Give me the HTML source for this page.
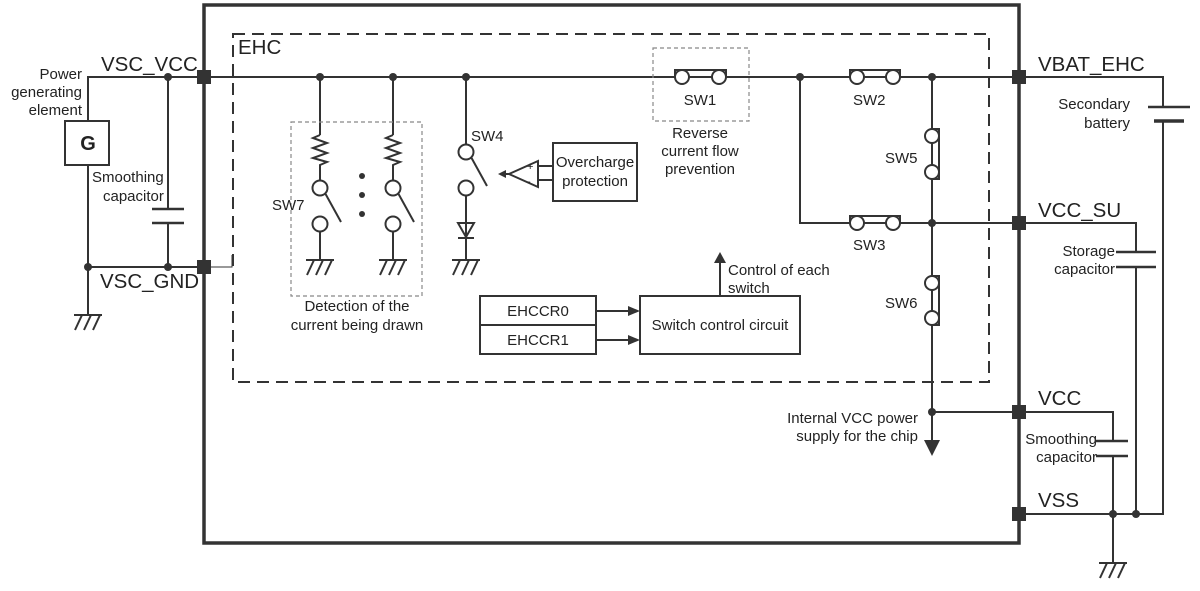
<!DOCTYPE html>
<html><head><meta charset="utf-8"><style>body{margin:0;background:#fff}svg{display:block}text{font-family:"Liberation Sans",Arial,sans-serif;fill:#222}</style></head><body>
<svg width="1200" height="591" viewBox="0 0 1200 591" xmlns="http://www.w3.org/2000/svg">
<defs>
<g id="gnd" stroke="#333" stroke-width="2" fill="none"><line x1="-14" y1="0" x2="14" y2="0"/><line x1="-6" y1="0" x2="-13" y2="15"/><line x1="3" y1="0" x2="-4" y2="15"/><line x1="12" y1="0" x2="5" y2="15"/></g>
</defs>
<g stroke="#333" fill="none" stroke-width="2">
<rect x="204" y="5" width="815" height="538" stroke-width="3.5"/>
<rect x="233" y="34" width="756" height="348" stroke-dasharray="12,7"/>
<polyline points="88,121 88,77 1019,77"/>
<line x1="88" y1="165" x2="88" y2="315"/>
<line x1="88" y1="267" x2="204" y2="267"/>
<polyline points="204,267 232,267 232,255" stroke-width="1"/>
<rect x="65" y="121" width="44" height="44"/>
<line x1="168" y1="77" x2="168" y2="209"/><line x1="152" y1="209" x2="184" y2="209" stroke-width="2.5"/>
<line x1="152" y1="223" x2="184" y2="223" stroke-width="2.5"/><line x1="168" y1="223" x2="168" y2="267"/>
<line x1="320" y1="77" x2="320" y2="135"/><polyline points="320,135 313,138 327,143 313,148 327,153 313,158 327,162 320,165 320,180"/>
<circle cx="320" cy="188" r="7.5"/><line x1="325" y1="193" x2="341" y2="222"/><circle cx="320" cy="224" r="7.5"/><line x1="320" y1="231" x2="320" y2="260"/>
<line x1="393" y1="77" x2="393" y2="135"/><polyline points="393,135 386,138 400,143 386,148 400,153 386,158 400,162 393,165 393,180"/>
<circle cx="393" cy="188" r="7.5"/><line x1="398" y1="193" x2="414" y2="222"/><circle cx="393" cy="224" r="7.5"/><line x1="393" y1="231" x2="393" y2="260"/>
<rect x="291" y="122" width="131" height="174" stroke="#888" stroke-width="1.2" stroke-dasharray="4,3"/>
<line x1="466" y1="77" x2="466" y2="145"/><circle cx="466" cy="152" r="7.5"/><line x1="471" y1="157" x2="487" y2="186"/>
<circle cx="466" cy="188" r="7.5"/><line x1="466" y1="195" x2="466" y2="260"/>
<polygon points="538,161 538,187 509,174"/><line x1="509" y1="174" x2="500" y2="174"/>
<line x1="538" y1="166" x2="553" y2="166"/><line x1="538" y1="180" x2="553" y2="180"/>
<rect x="553" y="143" width="84" height="58"/>
<rect x="653" y="48" width="96" height="73" stroke="#888" stroke-width="1.2" stroke-dasharray="4,3"/>
<polyline points="800,77 800,223 1019,223"/>
<line x1="932" y1="77" x2="932" y2="440"/>
<polyline points="932,412 1019,412"/>
<polyline points="1019,77 1163,77 1163,107"/><line x1="1148" y1="107" x2="1190" y2="107" stroke-width="2.5"/><line x1="1154" y1="121" x2="1184" y2="121" stroke-width="3.5"/><polyline points="1163,121 1163,514 1019,514"/>
<polyline points="1019,223 1136,223 1136,252"/><line x1="1116" y1="252" x2="1156" y2="252" stroke-width="2.5"/><line x1="1116" y1="267" x2="1156" y2="267" stroke-width="2.5"/><line x1="1136" y1="267" x2="1136" y2="514"/>
<polyline points="1019,412 1113,412 1113,441"/><line x1="1096" y1="441" x2="1128" y2="441" stroke-width="2.5"/><line x1="1096" y1="456" x2="1128" y2="456" stroke-width="2.5"/><line x1="1113" y1="456" x2="1113" y2="563"/>
<rect x="640" y="296" width="160" height="58"/><line x1="720" y1="296" x2="720" y2="262"/>
<rect x="480" y="296" width="116" height="29"/><rect x="480" y="325" width="116" height="29"/>
<line x1="596" y1="311" x2="630" y2="311"/><line x1="596" y1="340" x2="630" y2="340"/>
</g>
<g stroke="#333" stroke-width="2" fill="#fff">
<circle cx="682" cy="77" r="7"/><circle cx="719" cy="77" r="7"/>
<circle cx="857" cy="77" r="7"/><circle cx="893" cy="77" r="7"/>
<circle cx="857" cy="223" r="7"/><circle cx="893" cy="223" r="7"/>
<circle cx="932" cy="136" r="7"/><circle cx="932" cy="172" r="7"/>
<circle cx="932" cy="283" r="7"/><circle cx="932" cy="318" r="7"/>
</g>
<g stroke="#333" stroke-width="2" fill="none">
<polyline points="675,77 675,70 726,70 726,77"/>
<polyline points="850,77 850,70 900,70 900,77"/>
<polyline points="850,223 850,216 900,216 900,223"/>
<polyline points="932,129 939,129 939,179 932,179"/>
<polyline points="932,276 939,276 939,325 932,325"/>
<polygon points="458,223 474,223 466,237"/><line x1="458" y1="238" x2="474" y2="238"/>
</g>
<use href="#gnd" x="88" y="315"/><use href="#gnd" x="320" y="260"/><use href="#gnd" x="393" y="260"/><use href="#gnd" x="466" y="260"/><use href="#gnd" x="1113" y="563"/>
<g fill="#333">
<circle cx="168" cy="77" r="4"/><circle cx="168" cy="267" r="4"/><circle cx="88" cy="267" r="4"/>
<circle cx="320" cy="77" r="4"/><circle cx="393" cy="77" r="4"/><circle cx="466" cy="77" r="4"/>
<circle cx="800" cy="77" r="4"/><circle cx="932" cy="77" r="4"/><circle cx="932" cy="223" r="4"/><circle cx="932" cy="412" r="4"/>
<circle cx="1113" cy="514" r="4"/><circle cx="1136" cy="514" r="4"/>
<circle cx="362" cy="176" r="3"/><circle cx="362" cy="195" r="3"/><circle cx="362" cy="214" r="3"/>
<rect x="197" y="70" width="14" height="14"/><rect x="197" y="260" width="14" height="14"/>
<rect x="1012" y="70" width="14" height="14"/><rect x="1012" y="216" width="14" height="14"/><rect x="1012" y="405" width="14" height="14"/><rect x="1012" y="507" width="14" height="14"/>
<polygon points="924,440 940,440 932,456"/>
<polygon points="498,174 506,170 506,178"/>
<polygon points="714,263 726,263 720,252"/>
<polygon points="640,311 628,306 628,316"/><polygon points="640,340 628,335 628,345"/>
</g>
<g font-size="20.5">
<text x="101" y="71">VSC_VCC</text><text x="100" y="288">VSC_GND</text><text x="238" y="54">EHC</text>
<text x="1038" y="71">VBAT_EHC</text><text x="1038" y="217">VCC_SU</text><text x="1038" y="405">VCC</text><text x="1038" y="507">VSS</text>
</g>
<text x="88" y="150" font-size="20" font-weight="bold" text-anchor="middle">G</text>
<g font-size="15">
<text x="82" y="79" text-anchor="end">Power</text><text x="82" y="97" text-anchor="end">generating</text><text x="82" y="115" text-anchor="end">element</text>
<text x="92" y="182">Smoothing</text><text x="103" y="201">capacitor</text>
<text x="272" y="210">SW7</text>
<text x="357" y="311" text-anchor="middle">Detection of the</text><text x="357" y="330" text-anchor="middle">current being drawn</text>
<text x="471" y="141">SW4</text>
<text x="595" y="167" text-anchor="middle">Overcharge</text><text x="595" y="186" text-anchor="middle">protection</text>
<text x="700" y="105" text-anchor="middle">SW1</text>
<text x="700" y="138" text-anchor="middle">Reverse</text><text x="700" y="156" text-anchor="middle">current flow</text><text x="700" y="174" text-anchor="middle">prevention</text>
<text x="853" y="105">SW2</text><text x="853" y="250">SW3</text>
<text x="885" y="163">SW5</text><text x="885" y="308">SW6</text>
<text x="728" y="275">Control of each</text><text x="728" y="293">switch</text>
<text x="720" y="330" text-anchor="middle">Switch control circuit</text>
<text x="538" y="316" text-anchor="middle">EHCCR0</text><text x="538" y="345" text-anchor="middle">EHCCR1</text>
<text x="918" y="423" text-anchor="end">Internal VCC power</text><text x="918" y="441" text-anchor="end">supply for the chip</text>
<text x="1130" y="109" text-anchor="end">Secondary</text><text x="1130" y="128" text-anchor="end">battery</text>
<text x="1115" y="256" text-anchor="end">Storage</text><text x="1115" y="274" text-anchor="end">capacitor</text>
<text x="1097" y="444" text-anchor="end">Smoothing</text><text x="1097" y="462" text-anchor="end">capacitor</text>
</g>
<g font-size="11"><text x="527" y="170">+</text><text x="527" y="185">-</text></g>
</svg>
</body></html>
